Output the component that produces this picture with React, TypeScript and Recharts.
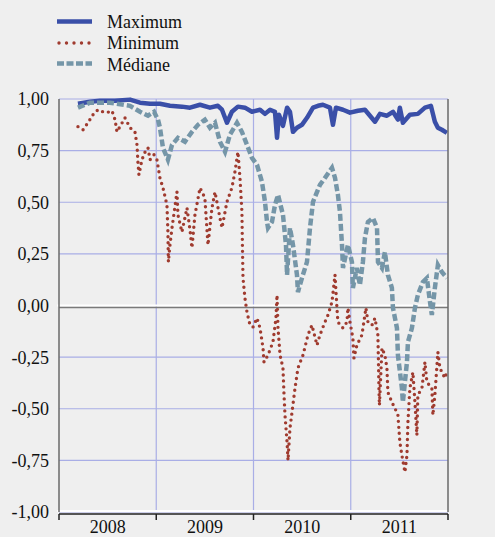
import { ComposedChart, Line, XAxis, YAxis, CartesianGrid, ReferenceLine } from "recharts";

// ─── Data (fractional year, correlation) ──────────────────────────────────────

const MAXIMUM: [number, number][] = [
  [2008.195, 0.977], [2008.319, 0.987], [2008.421, 0.992], [2008.576, 0.992], [2008.73, 0.997],
  [2008.833, 0.982], [2008.936, 0.977], [2009.038, 0.977], [2009.141, 0.967], [2009.264, 0.963],
  [2009.347, 0.958], [2009.45, 0.972], [2009.552, 0.958], [2009.634, 0.967], [2009.676, 0.948],
  [2009.727, 0.885], [2009.778, 0.938], [2009.84, 0.963], [2009.912, 0.958], [2009.984, 0.938],
  [2010.067, 0.948], [2010.118, 0.928], [2010.17, 0.948], [2010.221, 0.938], [2010.242, 0.812],
  [2010.262, 0.924], [2010.303, 0.87], [2010.345, 0.958], [2010.375, 0.938], [2010.406, 0.841],
  [2010.447, 0.861], [2010.498, 0.875], [2010.55, 0.909], [2010.612, 0.958], [2010.663, 0.967],
  [2010.714, 0.972], [2010.786, 0.958], [2010.817, 0.875], [2010.848, 0.958], [2010.92, 0.948],
  [2010.992, 0.934], [2011.074, 0.943], [2011.146, 0.948], [2011.249, 0.89], [2011.3, 0.928],
  [2011.372, 0.919], [2011.434, 0.938], [2011.485, 0.9], [2011.505, 0.958], [2011.536, 0.885],
  [2011.608, 0.924], [2011.69, 0.928], [2011.763, 0.958], [2011.824, 0.967], [2011.865, 0.89],
  [2011.896, 0.861], [2011.937, 0.851], [2011.989, 0.836],
];

const MINIMUM: [number, number][] = [
  [2008.195, 0.866], [2008.247, 0.851], [2008.298, 0.885], [2008.35, 0.924], [2008.4, 0.948],
  [2008.452, 0.938], [2008.493, 0.934], [2008.545, 0.943], [2008.576, 0.9], [2008.596, 0.841],
  [2008.627, 0.866], [2008.678, 0.909], [2008.73, 0.861], [2008.781, 0.841], [2008.802, 0.778],
  [2008.812, 0.691], [2008.822, 0.633], [2008.853, 0.706], [2008.894, 0.754], [2008.915, 0.764],
  [2008.936, 0.706], [2008.977, 0.73], [2009.007, 0.706], [2009.038, 0.618], [2009.069, 0.57],
  [2009.11, 0.487], [2009.12, 0.356], [2009.125, 0.211], [2009.141, 0.293], [2009.162, 0.376],
  [2009.213, 0.55], [2009.223, 0.439], [2009.264, 0.356], [2009.316, 0.473], [2009.347, 0.366],
  [2009.367, 0.279], [2009.398, 0.439], [2009.45, 0.57], [2009.5, 0.521], [2009.532, 0.293],
  [2009.573, 0.473], [2009.604, 0.55], [2009.655, 0.424], [2009.676, 0.376], [2009.727, 0.502],
  [2009.778, 0.57], [2009.809, 0.647], [2009.84, 0.744], [2009.861, 0.618], [2009.881, 0.453],
  [2009.886, 0.293], [2009.892, 0.133], [2009.912, 0.036], [2009.933, -0.032], [2009.964, -0.095],
  [2009.995, -0.104], [2010.036, -0.061], [2010.067, -0.109], [2010.098, -0.206], [2010.108, -0.274],
  [2010.149, -0.24], [2010.2, -0.177], [2010.231, -0.061], [2010.242, 0.051], [2010.252, -0.109],
  [2010.273, -0.24], [2010.303, -0.303], [2010.314, -0.434], [2010.324, -0.531], [2010.345, -0.662],
  [2010.355, -0.75], [2010.375, -0.594], [2010.396, -0.517], [2010.427, -0.4], [2010.457, -0.303],
  [2010.509, -0.24], [2010.56, -0.143], [2010.601, -0.095], [2010.653, -0.192], [2010.683, -0.143],
  [2010.735, -0.08], [2010.766, -0.046], [2010.807, 0.017], [2010.838, 0.148], [2010.858, -0.012],
  [2010.868, -0.08], [2010.92, -0.109], [2010.961, -0.08], [2010.971, -0.012], [2010.992, -0.08],
  [2011.022, -0.158], [2011.033, -0.255], [2011.063, -0.192], [2011.115, -0.143], [2011.156, -0.012],
  [2011.177, -0.08], [2011.218, -0.095], [2011.249, -0.061], [2011.279, -0.143], [2011.285, -0.274],
  [2011.29, -0.4], [2011.295, -0.483], [2011.321, -0.206], [2011.351, -0.24], [2011.372, -0.303],
  [2011.382, -0.42], [2011.423, -0.468], [2011.454, -0.497], [2011.485, -0.531], [2011.505, -0.662],
  [2011.526, -0.725], [2011.557, -0.807], [2011.578, -0.725], [2011.588, -0.565], [2011.608, -0.4],
  [2011.639, -0.323], [2011.66, -0.468], [2011.68, -0.628], [2011.69, -0.434], [2011.732, -0.4],
  [2011.763, -0.274], [2011.783, -0.371], [2011.834, -0.4], [2011.845, -0.531], [2011.865, -0.434],
  [2011.896, -0.226], [2011.917, -0.303], [2011.968, -0.352], [2011.989, -0.322],
];

const MEDIANE: [number, number][] = [
  [2008.195, 0.958], [2008.319, 0.982], [2008.524, 0.982], [2008.73, 0.967], [2008.833, 0.938],
  [2008.915, 0.919], [2008.977, 0.938], [2009.018, 0.9], [2009.038, 0.861], [2009.069, 0.764],
  [2009.12, 0.706], [2009.162, 0.778], [2009.223, 0.812], [2009.295, 0.793], [2009.367, 0.841],
  [2009.429, 0.875], [2009.5, 0.9], [2009.552, 0.861], [2009.604, 0.885], [2009.655, 0.793],
  [2009.707, 0.744], [2009.758, 0.827], [2009.83, 0.885], [2009.881, 0.841], [2009.933, 0.778],
  [2009.984, 0.715], [2010.036, 0.681], [2010.087, 0.599], [2010.118, 0.502], [2010.139, 0.405],
  [2010.149, 0.376], [2010.19, 0.405], [2010.221, 0.487], [2010.252, 0.536], [2010.303, 0.439],
  [2010.334, 0.293], [2010.345, 0.148], [2010.375, 0.376], [2010.406, 0.293], [2010.447, 0.148],
  [2010.457, 0.065], [2010.498, 0.133], [2010.55, 0.211], [2010.581, 0.376], [2010.612, 0.502],
  [2010.683, 0.584], [2010.735, 0.618], [2010.807, 0.667], [2010.838, 0.618], [2010.868, 0.536],
  [2010.889, 0.453], [2010.91, 0.293], [2010.92, 0.182], [2010.971, 0.293], [2011.012, 0.211],
  [2011.022, 0.085], [2011.063, 0.182], [2011.094, 0.099], [2011.125, 0.211], [2011.146, 0.327],
  [2011.177, 0.405], [2011.228, 0.424], [2011.27, 0.376], [2011.28, 0.211], [2011.321, 0.182],
  [2011.351, 0.259], [2011.382, 0.148], [2011.423, 0.085], [2011.434, -0.012], [2011.475, -0.109],
  [2011.485, -0.24], [2011.526, -0.4], [2011.536, -0.468], [2011.578, -0.274], [2011.588, -0.177],
  [2011.629, -0.109], [2011.66, -0.012], [2011.69, 0.051], [2011.742, 0.114], [2011.783, 0.133],
  [2011.815, 0.017], [2011.834, -0.046], [2011.865, 0.085], [2011.896, 0.196], [2011.937, 0.162],
  [2011.989, 0.133],
];

const Y_TICKS = [-1, -0.75, -0.5, -0.25, 0, 0.25, 0.5, 0.75, 1];
const YEAR_BOUNDS = [2008, 2009, 2010, 2011, 2012];
const YEAR_LABELS = [2008, 2009, 2010, 2011];

// ─── Style ────────────────────────────────────────────────────────────────────

const FONT = '"Liberation Serif", "Times New Roman", serif';
const BLUE = "#3a4fa8";
const RED = "#a03b2f";
const TEAL = "#7596a8";
const GRID = "#a9aee6";
const AXIS = "#6a6a6a";

const toRows = (pts: [number, number][]) => pts.map(([t, v]) => ({ t, v }));
const fmt = (v: number) => v.toFixed(2).replace(".", ",");

const X_TICKS = [...YEAR_BOUNDS, ...YEAR_LABELS.map((y) => y + 0.5)].sort((a, b) => a - b);

function XTick({ x, y, payload }: any) {
  const v = payload.value as number;
  if (Number.isInteger(v)) {
    return <line x1={x} x2={x} y1={y + 2} y2={y + 8} stroke="#222" strokeWidth={1.5} />;
  }
  return (
    <text x={x} y={y + 21} textAnchor="middle" fontSize={18} fontFamily={FONT} fill="#111">
      {Math.floor(v)}
    </text>
  );
}

function RightTick({ x, y, payload }: any) {
  return (
    <text x={x + 48} y={y} dy="0.35em" textAnchor="end" fontSize={18} fontFamily={FONT} fill="#111">
      {fmt(payload.value)}
    </text>
  );
}

// white band with a darker rule just under it (zero line and bottom axis)
const doubleRule = (dark: string, whiteOff: number, darkOff: number) => (props: any) => {
  const { x1, x2, y1 } = props;
  return (
    <g>
      <line x1={x1 - 2} x2={x2} y1={y1 + whiteOff} y2={y1 + whiteOff} stroke="#fff" strokeWidth={2} />
      <line x1={x1} x2={x2} y1={y1 + darkOff} y2={y1 + darkOff} stroke={dark} strokeWidth={1.3} />
    </g>
  );
};

function LegendBox() {
  return (
    <svg width={220} height={80} style={{ position: "absolute", left: 0, top: 0 }}>
      <line x1={57} x2={92} y1={21.5} y2={21.5} stroke={BLUE} strokeWidth={4.5} />
      <line x1={59} x2={92} y1={43} y2={43} stroke={RED} strokeWidth={3.4} strokeDasharray="0 7.5" strokeLinecap="round" />
      <line x1={57} x2={92} y1={63.5} y2={63.5} stroke={TEAL} strokeWidth={4.5} strokeDasharray="7 2.5" />
      <g fontFamily={FONT} fontSize={18} fill="#111">
        <text x={107} y={27.5}>Maximum</text>
        <text x={107} y={49}>Minimum</text>
        <text x={107} y={70.5}>Médiane</text>
      </g>
    </svg>
  );
}

export default function App() {
  return (
    <div style={{ position: "absolute", left: 0, top: 0, width: 495, height: 537, background: "#efefef", overflow: "hidden" }}>
      <ComposedChart width={495} height={537} margin={{ top: 99, right: 0, bottom: 0, left: 0 }}>
        <CartesianGrid yAxisId="left" vertical={false} stroke={GRID} strokeWidth={1.2} />
        <XAxis
          dataKey="t"
          type="number"
          domain={[2008, 2012]}
          ticks={X_TICKS}
          interval={0}
          tick={<XTick />}
          tickLine={false}
          axisLine={false}
          tickSize={0}
          tickMargin={0}
          height={25}
          allowDataOverflow
        />
        <YAxis
          yAxisId="left"
          domain={[-1, 1]}
          ticks={Y_TICKS}
          interval={0}
          width={59}
          tickSize={0}
          tickMargin={10}
          tickLine={false}
          tickFormatter={fmt}
          axisLine={{ stroke: AXIS, strokeWidth: 1.5 }}
          tick={{ fontSize: 18, fontFamily: FONT, fill: "#111" }}
        />
        <YAxis
          yAxisId="right"
          orientation="right"
          domain={[-1, 1]}
          ticks={Y_TICKS}
          interval={0}
          width={47}
          tickSize={0}
          tickMargin={0}
          tickLine={false}
          axisLine={{ stroke: AXIS, strokeWidth: 1.5 }}
          tick={<RightTick />}
        />
        {YEAR_BOUNDS.slice(1, -1).map((yr) => (
          <ReferenceLine key={yr} x={yr} yAxisId="left" stroke={GRID} strokeWidth={1.2} />
        ))}
        <ReferenceLine y={0} yAxisId="left" shape={doubleRule("#7a7a7a", 0, 2)} />
        <ReferenceLine y={-1} yAxisId="left" shape={doubleRule("#222", -1, 2)} />
        <Line
          yAxisId="left"
          data={toRows(MAXIMUM)}
          dataKey="v"
          stroke={BLUE}
          strokeWidth={4.5}
          strokeLinejoin="round"
          dot={false}
          activeDot={false}
          isAnimationActive={false}
        />
        <Line
          yAxisId="left"
          data={toRows(MINIMUM)}
          dataKey="v"
          stroke={RED}
          strokeWidth={3.4}
          strokeDasharray="0 6"
          strokeLinecap="round"
          dot={false}
          activeDot={false}
          isAnimationActive={false}
        />
        <Line
          yAxisId="left"
          data={toRows(MEDIANE)}
          dataKey="v"
          stroke={TEAL}
          strokeWidth={4.5}
          strokeDasharray="7 3"
          dot={false}
          activeDot={false}
          isAnimationActive={false}
        />
      </ComposedChart>
      <LegendBox />
    </div>
  );
}
